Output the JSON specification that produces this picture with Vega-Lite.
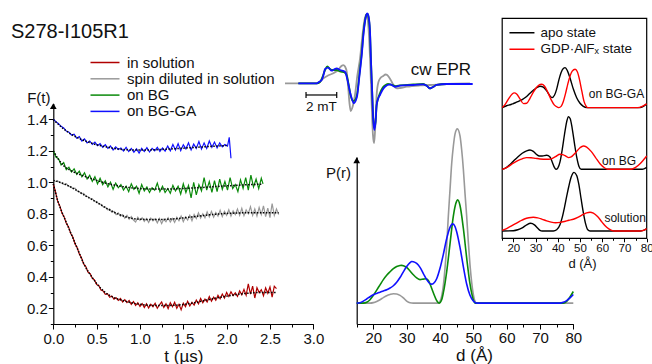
{
"$schema": "https://vega.github.io/schema/vega-lite/v6.json",
"width": 652, "height": 364, "autosize": {"type": "none"}, "padding": 0,
"background": "white",
"title": {"text": "S278-I105R1", "anchor": "start", "frame": "group", "offset": -58, "dx": 11, "baseline": "alphabetic", "fontSize": 20, "font": "Liberation Sans", "fontWeight": "normal", "color": "#111"},
"config": {
  "view": {"stroke": null},
  "font": "Liberation Sans",
  "axis": {"grid": false, "domainColor": "#000", "tickColor": "#000", "labelColor": "#111", "titleColor": "#111", "titleFontWeight": "normal", "labelFont": "Liberation Sans", "titleFont": "Liberation Sans", "labelFontSize": 15, "titleFontSize": 17, "domainWidth": 1.2, "tickWidth": 1},
  "legend": {"labelFont": "Liberation Sans", "labelColor": "#111"}
},
"datasets": {
  "red": [{"t":0,"f":0.99},{"t":0.025,"f":0.94},{"t":0.05,"f":0.88},{"t":0.075,"f":0.85},{"t":0.1,"f":0.805},{"t":0.125,"f":0.78},{"t":0.15,"f":0.74},{"t":0.175,"f":0.718},{"t":0.2,"f":0.676},{"t":0.225,"f":0.652},{"t":0.25,"f":0.61},{"t":0.275,"f":0.585},{"t":0.3,"f":0.545},{"t":0.325,"f":0.52},{"t":0.35,"f":0.482},{"t":0.375,"f":0.465},{"t":0.4,"f":0.43},{"t":0.425,"f":0.42},{"t":0.45,"f":0.39},{"t":0.475,"f":0.38},{"t":0.5,"f":0.35},{"t":0.525,"f":0.345},{"t":0.55,"f":0.315},{"t":0.575,"f":0.31},{"t":0.6,"f":0.288},{"t":0.625,"f":0.292},{"t":0.65,"f":0.27},{"t":0.675,"f":0.278},{"t":0.7,"f":0.258},{"t":0.725,"f":0.266},{"t":0.75,"f":0.25},{"t":0.775,"f":0.262},{"t":0.8,"f":0.24},{"t":0.825,"f":0.255},{"t":0.85,"f":0.236},{"t":0.875,"f":0.25},{"t":0.9,"f":0.225},{"t":0.925,"f":0.242},{"t":0.95,"f":0.218},{"t":0.975,"f":0.235},{"t":1,"f":0.212},{"t":1.025,"f":0.23},{"t":1.05,"f":0.205},{"t":1.075,"f":0.228},{"t":1.1,"f":0.202},{"t":1.125,"f":0.225},{"t":1.15,"f":0.21},{"t":1.175,"f":0.232},{"t":1.2,"f":0.2},{"t":1.225,"f":0.222},{"t":1.25,"f":0.24},{"t":1.275,"f":0.205},{"t":1.3,"f":0.228},{"t":1.325,"f":0.198},{"t":1.35,"f":0.235},{"t":1.375,"f":0.21},{"t":1.4,"f":0.238},{"t":1.425,"f":0.2},{"t":1.45,"f":0.225},{"t":1.475,"f":0.19},{"t":1.5,"f":0.232},{"t":1.525,"f":0.21},{"t":1.55,"f":0.245},{"t":1.575,"f":0.215},{"t":1.6,"f":0.238},{"t":1.625,"f":0.22},{"t":1.65,"f":0.252},{"t":1.675,"f":0.228},{"t":1.7,"f":0.262},{"t":1.725,"f":0.235},{"t":1.75,"f":0.258},{"t":1.775,"f":0.24},{"t":1.8,"f":0.275},{"t":1.825,"f":0.245},{"t":1.85,"f":0.27},{"t":1.875,"f":0.25},{"t":1.9,"f":0.282},{"t":1.925,"f":0.26},{"t":1.95,"f":0.29},{"t":1.975,"f":0.265},{"t":2,"f":0.3},{"t":2.025,"f":0.275},{"t":2.05,"f":0.305},{"t":2.075,"f":0.28},{"t":2.1,"f":0.298},{"t":2.125,"f":0.275},{"t":2.15,"f":0.31},{"t":2.175,"f":0.285},{"t":2.2,"f":0.32},{"t":2.225,"f":0.282},{"t":2.25,"f":0.355},{"t":2.275,"f":0.29},{"t":2.3,"f":0.34},{"t":2.325,"f":0.265},{"t":2.35,"f":0.33},{"t":2.375,"f":0.3},{"t":2.4,"f":0.318},{"t":2.425,"f":0.28},{"t":2.45,"f":0.33},{"t":2.475,"f":0.295},{"t":2.5,"f":0.335},{"t":2.525,"f":0.27},{"t":2.55,"f":0.34},{"t":2.575,"f":0.325}],
  "gray": [{"t":0,"f":1.012},{"t":0.025,"f":1.005},{"t":0.05,"f":1.008},{"t":0.075,"f":0.998},{"t":0.1,"f":0.995},{"t":0.125,"f":0.985},{"t":0.15,"f":0.99},{"t":0.175,"f":0.975},{"t":0.2,"f":0.972},{"t":0.225,"f":0.96},{"t":0.25,"f":0.962},{"t":0.275,"f":0.945},{"t":0.3,"f":0.94},{"t":0.325,"f":0.928},{"t":0.35,"f":0.93},{"t":0.375,"f":0.912},{"t":0.4,"f":0.908},{"t":0.425,"f":0.898},{"t":0.45,"f":0.895},{"t":0.475,"f":0.88},{"t":0.5,"f":0.878},{"t":0.525,"f":0.862},{"t":0.55,"f":0.86},{"t":0.575,"f":0.845},{"t":0.6,"f":0.842},{"t":0.625,"f":0.825},{"t":0.65,"f":0.83},{"t":0.675,"f":0.81},{"t":0.7,"f":0.815},{"t":0.725,"f":0.795},{"t":0.75,"f":0.805},{"t":0.775,"f":0.785},{"t":0.8,"f":0.795},{"t":0.825,"f":0.772},{"t":0.85,"f":0.79},{"t":0.875,"f":0.765},{"t":0.9,"f":0.782},{"t":0.925,"f":0.76},{"t":0.95,"f":0.748},{"t":0.975,"f":0.778},{"t":1,"f":0.758},{"t":1.025,"f":0.775},{"t":1.05,"f":0.752},{"t":1.075,"f":0.77},{"t":1.1,"f":0.745},{"t":1.125,"f":0.772},{"t":1.15,"f":0.755},{"t":1.175,"f":0.768},{"t":1.2,"f":0.742},{"t":1.225,"f":0.77},{"t":1.25,"f":0.738},{"t":1.275,"f":0.765},{"t":1.3,"f":0.75},{"t":1.325,"f":0.775},{"t":1.35,"f":0.748},{"t":1.375,"f":0.77},{"t":1.4,"f":0.745},{"t":1.425,"f":0.778},{"t":1.45,"f":0.755},{"t":1.475,"f":0.785},{"t":1.5,"f":0.75},{"t":1.525,"f":0.78},{"t":1.55,"f":0.76},{"t":1.575,"f":0.79},{"t":1.6,"f":0.755},{"t":1.625,"f":0.795},{"t":1.65,"f":0.77},{"t":1.675,"f":0.805},{"t":1.7,"f":0.772},{"t":1.725,"f":0.8},{"t":1.75,"f":0.775},{"t":1.775,"f":0.812},{"t":1.8,"f":0.78},{"t":1.825,"f":0.815},{"t":1.85,"f":0.778},{"t":1.875,"f":0.808},{"t":1.9,"f":0.785},{"t":1.925,"f":0.822},{"t":1.95,"f":0.782},{"t":1.975,"f":0.815},{"t":2,"f":0.79},{"t":2.025,"f":0.825},{"t":2.05,"f":0.785},{"t":2.075,"f":0.818},{"t":2.1,"f":0.795},{"t":2.125,"f":0.83},{"t":2.15,"f":0.79},{"t":2.175,"f":0.835},{"t":2.2,"f":0.788},{"t":2.225,"f":0.825},{"t":2.25,"f":0.8},{"t":2.275,"f":0.845},{"t":2.3,"f":0.79},{"t":2.325,"f":0.83},{"t":2.35,"f":0.785},{"t":2.375,"f":0.84},{"t":2.4,"f":0.795},{"t":2.425,"f":0.85},{"t":2.45,"f":0.782},{"t":2.475,"f":0.835},{"t":2.5,"f":0.775},{"t":2.525,"f":0.865},{"t":2.55,"f":0.79},{"t":2.575,"f":0.83},{"t":2.6,"f":0.795}],
  "green": [{"t":0,"f":1.2},{"t":0.03,"f":1.16},{"t":0.06,"f":1.15},{"t":0.09,"f":1.11},{"t":0.12,"f":1.125},{"t":0.15,"f":1.08},{"t":0.18,"f":1.095},{"t":0.21,"f":1.065},{"t":0.24,"f":1.085},{"t":0.27,"f":1.05},{"t":0.3,"f":1.07},{"t":0.33,"f":1.035},{"t":0.36,"f":1.06},{"t":0.39,"f":1.02},{"t":0.42,"f":1.045},{"t":0.45,"f":1.005},{"t":0.48,"f":1.035},{"t":0.51,"f":0.99},{"t":0.54,"f":1.025},{"t":0.57,"f":0.985},{"t":0.6,"f":1.01},{"t":0.63,"f":0.97},{"t":0.66,"f":1},{"t":0.69,"f":0.955},{"t":0.72,"f":0.995},{"t":0.75,"f":0.965},{"t":0.78,"f":0.985},{"t":0.81,"f":0.95},{"t":0.84,"f":0.975},{"t":0.87,"f":0.94},{"t":0.9,"f":0.99},{"t":0.93,"f":0.955},{"t":0.96,"f":0.975},{"t":0.99,"f":0.93},{"t":1.02,"f":0.985},{"t":1.05,"f":0.945},{"t":1.08,"f":0.97},{"t":1.11,"f":0.935},{"t":1.14,"f":0.965},{"t":1.17,"f":0.95},{"t":1.2,"f":0.995},{"t":1.23,"f":0.94},{"t":1.26,"f":0.975},{"t":1.29,"f":0.935},{"t":1.32,"f":0.96},{"t":1.35,"f":0.93},{"t":1.38,"f":0.98},{"t":1.41,"f":0.945},{"t":1.44,"f":0.975},{"t":1.47,"f":0.925},{"t":1.5,"f":0.99},{"t":1.53,"f":0.935},{"t":1.56,"f":0.98},{"t":1.59,"f":0.9},{"t":1.62,"f":1},{"t":1.65,"f":0.92},{"t":1.68,"f":0.985},{"t":1.71,"f":0.945},{"t":1.74,"f":1.03},{"t":1.77,"f":0.95},{"t":1.8,"f":1.005},{"t":1.83,"f":0.935},{"t":1.86,"f":1.01},{"t":1.89,"f":0.94},{"t":1.92,"f":1.02},{"t":1.95,"f":0.955},{"t":1.98,"f":1.005},{"t":2.01,"f":0.95},{"t":2.04,"f":1.03},{"t":2.07,"f":0.96},{"t":2.1,"f":0.985},{"t":2.13,"f":0.94},{"t":2.16,"f":1.015},{"t":2.19,"f":0.96},{"t":2.22,"f":1.03},{"t":2.25,"f":0.95},{"t":2.28,"f":1.045},{"t":2.31,"f":0.97},{"t":2.34,"f":1.02},{"t":2.37,"f":0.96},{"t":2.4,"f":1.025},{"t":2.42,"f":0.99}],
  "blue": [{"t":0,"f":1.4},{"t":0.03,"f":1.385},{"t":0.06,"f":1.372},{"t":0.09,"f":1.355},{"t":0.12,"f":1.345},{"t":0.15,"f":1.325},{"t":0.18,"f":1.318},{"t":0.21,"f":1.3},{"t":0.24,"f":1.305},{"t":0.27,"f":1.28},{"t":0.3,"f":1.29},{"t":0.33,"f":1.262},{"t":0.36,"f":1.275},{"t":0.39,"f":1.25},{"t":0.42,"f":1.262},{"t":0.45,"f":1.24},{"t":0.48,"f":1.255},{"t":0.51,"f":1.232},{"t":0.54,"f":1.245},{"t":0.57,"f":1.222},{"t":0.6,"f":1.238},{"t":0.63,"f":1.215},{"t":0.66,"f":1.23},{"t":0.69,"f":1.205},{"t":0.72,"f":1.225},{"t":0.75,"f":1.208},{"t":0.78,"f":1.218},{"t":0.81,"f":1.198},{"t":0.84,"f":1.222},{"t":0.87,"f":1.195},{"t":0.9,"f":1.215},{"t":0.93,"f":1.19},{"t":0.96,"f":1.212},{"t":0.99,"f":1.185},{"t":1.02,"f":1.215},{"t":1.05,"f":1.195},{"t":1.08,"f":1.22},{"t":1.11,"f":1.192},{"t":1.14,"f":1.215},{"t":1.17,"f":1.2},{"t":1.2,"f":1.222},{"t":1.23,"f":1.195},{"t":1.26,"f":1.218},{"t":1.29,"f":1.198},{"t":1.32,"f":1.23},{"t":1.35,"f":1.2},{"t":1.38,"f":1.24},{"t":1.41,"f":1.205},{"t":1.44,"f":1.245},{"t":1.47,"f":1.2},{"t":1.5,"f":1.238},{"t":1.53,"f":1.212},{"t":1.56,"f":1.25},{"t":1.59,"f":1.205},{"t":1.62,"f":1.242},{"t":1.65,"f":1.215},{"t":1.68,"f":1.258},{"t":1.71,"f":1.21},{"t":1.74,"f":1.25},{"t":1.77,"f":1.215},{"t":1.8,"f":1.262},{"t":1.83,"f":1.222},{"t":1.86,"f":1.255},{"t":1.89,"f":1.218},{"t":1.92,"f":1.25},{"t":1.95,"f":1.225},{"t":1.98,"f":1.24},{"t":2.01,"f":1.23},{"t":2.03,"f":1.285},{"t":2.05,"f":1.152}],
  "fits": [{"s":"r","t":0,"f":0.99},{"s":"r","t":0.05,"f":0.885},{"s":"r","t":0.1,"f":0.81},{"s":"r","t":0.15,"f":0.745},{"s":"r","t":0.2,"f":0.68},{"s":"r","t":0.25,"f":0.615},{"s":"r","t":0.3,"f":0.55},{"s":"r","t":0.35,"f":0.485},{"s":"r","t":0.4,"f":0.435},{"s":"r","t":0.45,"f":0.395},{"s":"r","t":0.5,"f":0.357},{"s":"r","t":0.6,"f":0.3},{"s":"r","t":0.7,"f":0.267},{"s":"r","t":0.8,"f":0.25},{"s":"r","t":0.9,"f":0.235},{"s":"r","t":1,"f":0.225},{"s":"r","t":1.2,"f":0.217},{"s":"r","t":1.4,"f":0.219},{"s":"r","t":1.6,"f":0.232},{"s":"r","t":1.8,"f":0.256},{"s":"r","t":2,"f":0.277},{"s":"r","t":2.2,"f":0.293},{"s":"r","t":2.4,"f":0.3},{"s":"r","t":2.575,"f":0.3},
    {"s":"g","t":0,"f":1.012},{"s":"g","t":0.1,"f":0.995},{"s":"g","t":0.2,"f":0.97},{"s":"g","t":0.3,"f":0.938},{"s":"g","t":0.4,"f":0.905},{"s":"g","t":0.5,"f":0.873},{"s":"g","t":0.6,"f":0.84},{"s":"g","t":0.7,"f":0.81},{"s":"g","t":0.8,"f":0.787},{"s":"g","t":0.9,"f":0.772},{"s":"g","t":1,"f":0.765},{"s":"g","t":1.2,"f":0.763},{"s":"g","t":1.4,"f":0.768},{"s":"g","t":1.6,"f":0.78},{"s":"g","t":1.8,"f":0.793},{"s":"g","t":2,"f":0.802},{"s":"g","t":2.2,"f":0.806},{"s":"g","t":2.4,"f":0.807},{"s":"g","t":2.6,"f":0.806},
    {"s":"b","t":0,"f":1.2},{"s":"b","t":0.06,"f":1.145},{"s":"b","t":0.12,"f":1.105},{"s":"b","t":0.2,"f":1.075},{"s":"b","t":0.3,"f":1.05},{"s":"b","t":0.4,"f":1.03},{"s":"b","t":0.5,"f":1.012},{"s":"b","t":0.6,"f":0.995},{"s":"b","t":0.7,"f":0.982},{"s":"b","t":0.8,"f":0.972},{"s":"b","t":0.9,"f":0.965},{"s":"b","t":1,"f":0.96},{"s":"b","t":1.2,"f":0.957},{"s":"b","t":1.4,"f":0.958},{"s":"b","t":1.6,"f":0.963},{"s":"b","t":1.8,"f":0.97},{"s":"b","t":2,"f":0.977},{"s":"b","t":2.2,"f":0.983},{"s":"b","t":2.4,"f":0.988},
    {"s":"a","t":0,"f":1.398},{"s":"a","t":0.05,"f":1.372},{"s":"a","t":0.1,"f":1.347},{"s":"a","t":0.15,"f":1.326},{"s":"a","t":0.2,"f":1.307},{"s":"a","t":0.3,"f":1.277},{"s":"a","t":0.4,"f":1.256},{"s":"a","t":0.5,"f":1.238},{"s":"a","t":0.6,"f":1.226},{"s":"a","t":0.7,"f":1.215},{"s":"a","t":0.8,"f":1.208},{"s":"a","t":0.9,"f":1.205},{"s":"a","t":1,"f":1.204},{"s":"a","t":1.2,"f":1.207},{"s":"a","t":1.4,"f":1.213},{"s":"a","t":1.6,"f":1.22},{"s":"a","t":1.8,"f":1.227},{"s":"a","t":2,"f":1.233}],
  "pr": [{"s":"1","d":15,"p":0},{"s":"1","d":19,"p":0},{"s":"1","d":20,"p":0.003},{"s":"1","d":21,"p":0.01},{"s":"1","d":22,"p":0.02},{"s":"1","d":23,"p":0.032},{"s":"1","d":24,"p":0.043},{"s":"1","d":25,"p":0.05},{"s":"1","d":26,"p":0.054},{"s":"1","d":27,"p":0.053},{"s":"1","d":28,"p":0.045},{"s":"1","d":29,"p":0.03},{"s":"1","d":30,"p":0.012},{"s":"1","d":31,"p":0.002},{"s":"1","d":32,"p":0},{"s":"1","d":39.5,"p":0},{"s":"1","d":40,"p":0.01},{"s":"1","d":40.5,"p":0.04},{"s":"1","d":41,"p":0.1},{"s":"1","d":41.5,"p":0.2},{"s":"1","d":42,"p":0.33},{"s":"1","d":42.5,"p":0.5},{"s":"1","d":43,"p":0.65},{"s":"1","d":43.5,"p":0.8},{"s":"1","d":44,"p":0.9},{"s":"1","d":44.5,"p":0.97},{"s":"1","d":45.2,"p":1},{"s":"1","d":46,"p":0.96},{"s":"1","d":46.5,"p":0.88},{"s":"1","d":47,"p":0.77},{"s":"1","d":47.5,"p":0.63},{"s":"1","d":48,"p":0.5},{"s":"1","d":48.5,"p":0.35},{"s":"1","d":49,"p":0.22},{"s":"1","d":49.5,"p":0.12},{"s":"1","d":50,"p":0.05},{"s":"1","d":50.5,"p":0.01},{"s":"1","d":51,"p":0},{"s":"1","d":80,"p":0},
    {"s":"2","d":15,"p":0},{"s":"2","d":17,"p":0},{"s":"2","d":18,"p":0.005},{"s":"2","d":19,"p":0.02},{"s":"2","d":20,"p":0.045},{"s":"2","d":21,"p":0.075},{"s":"2","d":22,"p":0.105},{"s":"2","d":23,"p":0.135},{"s":"2","d":24,"p":0.16},{"s":"2","d":25,"p":0.18},{"s":"2","d":26,"p":0.198},{"s":"2","d":27,"p":0.21},{"s":"2","d":28,"p":0.216},{"s":"2","d":28.5,"p":0.217},{"s":"2","d":29,"p":0.215},{"s":"2","d":30,"p":0.205},{"s":"2","d":31,"p":0.185},{"s":"2","d":32,"p":0.163},{"s":"2","d":33,"p":0.145},{"s":"2","d":34,"p":0.135},{"s":"2","d":35,"p":0.138},{"s":"2","d":35.8,"p":0.14},{"s":"2","d":36.5,"p":0.13},{"s":"2","d":37,"p":0.11},{"s":"2","d":38,"p":0.06},{"s":"2","d":39,"p":0.015},{"s":"2","d":39.7,"p":0},{"s":"2","d":40.5,"p":0.02},{"s":"2","d":41,"p":0.06},{"s":"2","d":42,"p":0.18},{"s":"2","d":43,"p":0.34},{"s":"2","d":44,"p":0.5},{"s":"2","d":45,"p":0.585},{"s":"2","d":45.3,"p":0.593},{"s":"2","d":46,"p":0.56},{"s":"2","d":47,"p":0.43},{"s":"2","d":48,"p":0.26},{"s":"2","d":49,"p":0.11},{"s":"2","d":50,"p":0.02},{"s":"2","d":50.5,"p":0},{"s":"2","d":77,"p":0},{"s":"2","d":78,"p":0.01},{"s":"2","d":79,"p":0.035},{"s":"2","d":80,"p":0.067},
    {"s":"3","d":15,"p":0},{"s":"3","d":16,"p":0.003},{"s":"3","d":17,"p":0.012},{"s":"3","d":18,"p":0.024},{"s":"3","d":19,"p":0.037},{"s":"3","d":20,"p":0.048},{"s":"3","d":21,"p":0.056},{"s":"3","d":22,"p":0.063},{"s":"3","d":23,"p":0.07},{"s":"3","d":24,"p":0.077},{"s":"3","d":25,"p":0.087},{"s":"3","d":26,"p":0.1},{"s":"3","d":27,"p":0.12},{"s":"3","d":28,"p":0.147},{"s":"3","d":29,"p":0.18},{"s":"3","d":30,"p":0.21},{"s":"3","d":31,"p":0.232},{"s":"3","d":31.5,"p":0.239},{"s":"3","d":32,"p":0.238},{"s":"3","d":33,"p":0.228},{"s":"3","d":34,"p":0.205},{"s":"3","d":35,"p":0.17},{"s":"3","d":36,"p":0.135},{"s":"3","d":37,"p":0.112},{"s":"3","d":37.5,"p":0.109},{"s":"3","d":38,"p":0.112},{"s":"3","d":39,"p":0.14},{"s":"3","d":40,"p":0.2},{"s":"3","d":41,"p":0.28},{"s":"3","d":42,"p":0.37},{"s":"3","d":43,"p":0.435},{"s":"3","d":43.8,"p":0.455},{"s":"3","d":44.5,"p":0.44},{"s":"3","d":45,"p":0.41},{"s":"3","d":46,"p":0.32},{"s":"3","d":47,"p":0.21},{"s":"3","d":48,"p":0.11},{"s":"3","d":49,"p":0.045},{"s":"3","d":50,"p":0.012},{"s":"3","d":51,"p":0},{"s":"3","d":76,"p":0},{"s":"3","d":77,"p":0.005},{"s":"3","d":78,"p":0.015},{"s":"3","d":79,"p":0.03},{"s":"3","d":80,"p":0.05}],
  "epr": [{"s":"1","b":0,"v":0},{"s":"1","b":2.07,"v":0},{"s":"1","b":2.28,"v":0.019},{"s":"1","b":2.5,"v":0.071},{"s":"1","b":2.8,"v":0.111},{"s":"1","b":3.15,"v":0.143},{"s":"1","b":3.45,"v":0.19},{"s":"1","b":3.68,"v":0.247},{"s":"1","b":3.8,"v":0.261},{"s":"1","b":3.91,"v":0.24},{"s":"1","b":4.02,"v":0.166},{"s":"1","b":4.12,"v":-0.067},{"s":"1","b":4.2,"v":-0.281},{"s":"1","b":4.28,"v":-0.396},{"s":"1","b":4.38,"v":-0.353},{"s":"1","b":4.56,"v":-0.167},{"s":"1","b":4.72,"v":0.119},{"s":"1","b":4.89,"v":0.357},{"s":"1","b":5.05,"v":0.69},{"s":"1","b":5.18,"v":0.904},{"s":"1","b":5.28,"v":0.976},{"s":"1","b":5.36,"v":0.947},{"s":"1","b":5.47,"v":0.69},{"s":"1","b":5.57,"v":0.19},{"s":"1","b":5.65,"v":-0.31},{"s":"1","b":5.73,"v":-0.739},{"s":"1","b":5.8,"v":-0.853},{"s":"1","b":5.86,"v":-0.71},{"s":"1","b":5.97,"v":-0.167},{"s":"1","b":6.09,"v":0.019},{"s":"1","b":6.22,"v":0.076},{"s":"1","b":6.4,"v":0.104},{"s":"1","b":6.55,"v":0.126},{"s":"1","b":6.66,"v":0.119},{"s":"1","b":6.81,"v":0.076},{"s":"1","b":6.95,"v":0.023},{"s":"1","b":7.1,"v":-0.039},{"s":"1","b":7.28,"v":-0.071},{"s":"1","b":7.49,"v":-0.067},{"s":"1","b":7.93,"v":-0.049},{"s":"1","b":8.79,"v":-0.031},{"s":"1","b":9.45,"v":-0.024},{"s":"1","b":10.53,"v":-0.01},{"s":"1","b":12.05,"v":-0.003},
    {"s":"2","b":0.87,"v":0},{"s":"2","b":2.07,"v":0},{"s":"2","b":2.28,"v":0.019},{"s":"2","b":2.44,"v":0.09},{"s":"2","b":2.61,"v":0.19},{"s":"2","b":2.76,"v":0.24},{"s":"2","b":2.93,"v":0.204},{"s":"2","b":3.13,"v":0.19},{"s":"2","b":3.37,"v":0.19},{"s":"2","b":3.58,"v":0.169},{"s":"2","b":3.84,"v":0.161},{"s":"2","b":4.01,"v":0.119},{"s":"2","b":4.14,"v":-0.01},{"s":"2","b":4.27,"v":-0.167},{"s":"2","b":4.43,"v":-0.253},{"s":"2","b":4.56,"v":-0.239},{"s":"2","b":4.71,"v":-0.139},{"s":"2","b":4.85,"v":0.133},{"s":"2","b":5,"v":0.433},{"s":"2","b":5.11,"v":0.719},{"s":"2","b":5.21,"v":0.89},{"s":"2","b":5.31,"v":0.983},{"s":"2","b":5.37,"v":0.99},{"s":"2","b":5.45,"v":0.933},{"s":"2","b":5.54,"v":0.719},{"s":"2","b":5.6,"v":0.333},{"s":"2","b":5.67,"v":-0.067},{"s":"2","b":5.75,"v":-0.496},{"s":"2","b":5.82,"v":-0.639},{"s":"2","b":5.9,"v":-0.553},{"s":"2","b":5.97,"v":-0.324},{"s":"2","b":6.06,"v":-0.224},{"s":"2","b":6.19,"v":-0.139},{"s":"2","b":6.35,"v":-0.067},{"s":"2","b":6.51,"v":-0.031},{"s":"2","b":6.71,"v":-0.01},{"s":"2","b":6.97,"v":-0.024},{"s":"2","b":7.23,"v":-0.039},{"s":"2","b":7.49,"v":-0.031},{"s":"2","b":8.36,"v":-0.017},{"s":"2","b":9.01,"v":-0.01},{"s":"2","b":9.25,"v":-0.039},{"s":"2","b":9.45,"v":-0.074},{"s":"2","b":9.64,"v":-0.053},{"s":"2","b":9.88,"v":-0.024},{"s":"2","b":10.53,"v":-0.01},{"s":"2","b":11.4,"v":-0.01},
    {"s":"3","b":0.87,"v":0},{"s":"3","b":2.07,"v":0},{"s":"3","b":2.21,"v":0.019},{"s":"3","b":2.39,"v":0.047},{"s":"3","b":2.51,"v":0.119},{"s":"3","b":2.61,"v":0.204},{"s":"3","b":2.82,"v":0.223},{"s":"3","b":3.04,"v":0.18},{"s":"3","b":3.19,"v":0.197},{"s":"3","b":3.37,"v":0.214},{"s":"3","b":3.58,"v":0.19},{"s":"3","b":3.91,"v":0.166},{"s":"3","b":4.02,"v":0.094},{"s":"3","b":4.14,"v":-0.024},{"s":"3","b":4.23,"v":-0.12},{"s":"3","b":4.36,"v":-0.224},{"s":"3","b":4.49,"v":-0.286},{"s":"3","b":4.6,"v":-0.253},{"s":"3","b":4.71,"v":-0.167},{"s":"3","b":4.85,"v":0.104},{"s":"3","b":5,"v":0.404},{"s":"3","b":5.11,"v":0.69},{"s":"3","b":5.21,"v":0.88},{"s":"3","b":5.3,"v":0.976},{"s":"3","b":5.36,"v":1},{"s":"3","b":5.44,"v":0.961},{"s":"3","b":5.54,"v":0.737},{"s":"3","b":5.6,"v":0.333},{"s":"3","b":5.67,"v":-0.067},{"s":"3","b":5.75,"v":-0.524},{"s":"3","b":5.82,"v":-0.667},{"s":"3","b":5.9,"v":-0.553},{"s":"3","b":5.97,"v":-0.31},{"s":"3","b":6.06,"v":-0.224},{"s":"3","b":6.19,"v":-0.167},{"s":"3","b":6.35,"v":-0.096},{"s":"3","b":6.51,"v":-0.049},{"s":"3","b":6.84,"v":-0.014},{"s":"3","b":7.17,"v":-0.049},{"s":"3","b":7.49,"v":-0.034},{"s":"3","b":8.36,"v":-0.024},{"s":"3","b":9.01,"v":-0.014},{"s":"3","b":9.25,"v":-0.039},{"s":"3","b":9.45,"v":-0.071},{"s":"3","b":9.64,"v":-0.053},{"s":"3","b":9.88,"v":-0.024},{"s":"3","b":10.53,"v":-0.01},{"s":"3","b":12.23,"v":-0.01}],
  "apo": [{"g":"s","d":15,"y":0},{"g":"s","d":20,"y":0.005},{"g":"s","d":22,"y":0.02},{"g":"s","d":24,"y":0.05},{"g":"s","d":26,"y":0.1},{"g":"s","d":27.8,"y":0.125},{"g":"s","d":29.5,"y":0.1},{"g":"s","d":31,"y":0.045},{"g":"s","d":32,"y":0.01},{"g":"s","d":33,"y":0},{"g":"s","d":38,"y":0},{"g":"s","d":39.5,"y":0.02},{"g":"s","d":41,"y":0.1},{"g":"s","d":42,"y":0.22},{"g":"s","d":43,"y":0.38},{"g":"s","d":44,"y":0.56},{"g":"s","d":45,"y":0.73},{"g":"s","d":46,"y":0.87},{"g":"s","d":47.3,"y":0.951},{"g":"s","d":48.5,"y":0.9},{"g":"s","d":49.5,"y":0.75},{"g":"s","d":50.5,"y":0.52},{"g":"s","d":51.5,"y":0.3},{"g":"s","d":52.5,"y":0.12},{"g":"s","d":53.5,"y":0.02},{"g":"s","d":54.5,"y":0},{"g":"s","d":77,"y":0},{"g":"s","d":78.5,"y":0.01},{"g":"s","d":80,"y":0.04},
    {"g":"b","d":15,"y":1},{"g":"b","d":16,"y":1.01},{"g":"b","d":18,"y":1.06},{"g":"b","d":20,"y":1.13},{"g":"b","d":22,"y":1.2},{"g":"b","d":24,"y":1.26},{"g":"b","d":26,"y":1.3},{"g":"b","d":27.5,"y":1.313},{"g":"b","d":29,"y":1.29},{"g":"b","d":30.5,"y":1.24},{"g":"b","d":31.7,"y":1.216},{"g":"b","d":33,"y":1.215},{"g":"b","d":35,"y":1.227},{"g":"b","d":36.5,"y":1.2},{"g":"b","d":37.5,"y":1.12},{"g":"b","d":38.5,"y":1.03},{"g":"b","d":39.2,"y":1},{"g":"b","d":40,"y":1.02},{"g":"b","d":41,"y":1.12},{"g":"b","d":42,"y":1.32},{"g":"b","d":43,"y":1.56},{"g":"b","d":44,"y":1.77},{"g":"b","d":44.8,"y":1.854},{"g":"b","d":45.6,"y":1.82},{"g":"b","d":46.5,"y":1.66},{"g":"b","d":47.5,"y":1.42},{"g":"b","d":48.5,"y":1.2},{"g":"b","d":49.5,"y":1.05},{"g":"b","d":50.5,"y":1},{"g":"b","d":78,"y":1},{"g":"b","d":79,"y":1.01},{"g":"b","d":80,"y":1.03},
    {"g":"a","d":15,"y":2},{"g":"a","d":17,"y":2.03},{"g":"a","d":19,"y":2.05},{"g":"a","d":20,"y":2.065},{"g":"a","d":22,"y":2.095},{"g":"a","d":24,"y":2.13},{"g":"a","d":26,"y":2.18},{"g":"a","d":28,"y":2.25},{"g":"a","d":30,"y":2.31},{"g":"a","d":32,"y":2.345},{"g":"a","d":33.5,"y":2.33},{"g":"a","d":35,"y":2.27},{"g":"a","d":36.5,"y":2.19},{"g":"a","d":37.4,"y":2.162},{"g":"a","d":38.5,"y":2.2},{"g":"a","d":39.5,"y":2.3},{"g":"a","d":40.5,"y":2.45},{"g":"a","d":41.5,"y":2.57},{"g":"a","d":42.5,"y":2.635},{"g":"a","d":43.3,"y":2.648},{"g":"a","d":44.3,"y":2.6},{"g":"a","d":45.5,"y":2.48},{"g":"a","d":47,"y":2.3},{"g":"a","d":48.5,"y":2.16},{"g":"a","d":50,"y":2.07},{"g":"a","d":51.5,"y":2.02},{"g":"a","d":53,"y":2},{"g":"a","d":77,"y":2},{"g":"a","d":78.5,"y":2.02},{"g":"a","d":80,"y":2.06}],
  "gdp": [{"g":"s","d":15,"y":0.01},{"g":"s","d":17,"y":0.04},{"g":"s","d":19,"y":0.08},{"g":"s","d":21,"y":0.12},{"g":"s","d":23,"y":0.16},{"g":"s","d":25,"y":0.195},{"g":"s","d":27,"y":0.215},{"g":"s","d":29,"y":0.222},{"g":"s","d":31,"y":0.212},{"g":"s","d":33,"y":0.19},{"g":"s","d":35,"y":0.165},{"g":"s","d":37,"y":0.145},{"g":"s","d":39,"y":0.135},{"g":"s","d":41,"y":0.14},{"g":"s","d":43,"y":0.155},{"g":"s","d":45,"y":0.175},{"g":"s","d":47,"y":0.19},{"g":"s","d":49,"y":0.22},{"g":"s","d":51,"y":0.26},{"g":"s","d":53,"y":0.295},{"g":"s","d":54.5,"y":0.305},{"g":"s","d":56,"y":0.29},{"g":"s","d":58,"y":0.23},{"g":"s","d":60,"y":0.14},{"g":"s","d":62,"y":0.06},{"g":"s","d":64,"y":0.015},{"g":"s","d":65.5,"y":0},{"g":"s","d":77,"y":0},{"g":"s","d":78.5,"y":0.01},{"g":"s","d":80,"y":0.04},
    {"g":"b","d":15,"y":1},{"g":"b","d":16,"y":1.01},{"g":"b","d":18,"y":1.05},{"g":"b","d":20,"y":1.1},{"g":"b","d":22,"y":1.14},{"g":"b","d":24,"y":1.17},{"g":"b","d":26,"y":1.19},{"g":"b","d":28,"y":1.188},{"g":"b","d":30,"y":1.178},{"g":"b","d":32,"y":1.168},{"g":"b","d":35,"y":1.162},{"g":"b","d":37,"y":1.17},{"g":"b","d":39,"y":1.205},{"g":"b","d":41,"y":1.243},{"g":"b","d":42.5,"y":1.235},{"g":"b","d":44,"y":1.205},{"g":"b","d":44.8,"y":1.19},{"g":"b","d":46,"y":1.2},{"g":"b","d":48,"y":1.27},{"g":"b","d":50,"y":1.35},{"g":"b","d":51.5,"y":1.378},{"g":"b","d":53,"y":1.36},{"g":"b","d":55,"y":1.29},{"g":"b","d":57,"y":1.19},{"g":"b","d":59,"y":1.09},{"g":"b","d":61,"y":1.025},{"g":"b","d":62.5,"y":1},{"g":"b","d":73,"y":1},{"g":"b","d":75,"y":1.03},{"g":"b","d":77,"y":1.09},{"g":"b","d":78.5,"y":1.15},{"g":"b","d":80,"y":1.216},
    {"g":"a","d":15,"y":2},{"g":"a","d":16.5,"y":2.06},{"g":"a","d":18,"y":2.15},{"g":"a","d":19.5,"y":2.22},{"g":"a","d":20.4,"y":2.238},{"g":"a","d":21.5,"y":2.22},{"g":"a","d":23,"y":2.14},{"g":"a","d":24.6,"y":2.065},{"g":"a","d":26,"y":2.07},{"g":"a","d":27.5,"y":2.15},{"g":"a","d":29,"y":2.25},{"g":"a","d":30.5,"y":2.33},{"g":"a","d":32,"y":2.375},{"g":"a","d":32.8,"y":2.378},{"g":"a","d":34,"y":2.35},{"g":"a","d":35.5,"y":2.25},{"g":"a","d":37,"y":2.13},{"g":"a","d":38.5,"y":2.04},{"g":"a","d":40,"y":2.005},{"g":"a","d":40.5,"y":2},{"g":"a","d":41.5,"y":2.02},{"g":"a","d":42.5,"y":2.1},{"g":"a","d":43.5,"y":2.23},{"g":"a","d":44.5,"y":2.38},{"g":"a","d":45.5,"y":2.51},{"g":"a","d":46.5,"y":2.59},{"g":"a","d":47.8,"y":2.621},{"g":"a","d":48.8,"y":2.58},{"g":"a","d":49.8,"y":2.45},{"g":"a","d":50.8,"y":2.27},{"g":"a","d":51.8,"y":2.1},{"g":"a","d":52.8,"y":2.02},{"g":"a","d":53.5,"y":2},{"g":"a","d":76,"y":2},{"g":"a","d":78,"y":2.02},{"g":"a","d":80,"y":2.06}]
},
"resolve": {"scale": {"x": "independent", "y": "independent", "color": "independent"}, "axis": {"x": "independent", "y": "independent"}, "legend": {"color": "independent"}},
"layer": [
  {
    "encoding": {
      "x": {"field": "t", "type": "quantitative", "scale": {"domain": [0, 3], "range": [53.3, 313.3], "nice": false, "zero": false},
        "axis": {"orient": "bottom", "offset": -40, "values": [0,0.25,0.5,0.75,1,1.25,1.5,1.75,2,2.25,2.5,2.75,3], "labelExpr": "datum.value % 0.5 === 0 ? format(datum.value, '.1f') : ''", "tickSize": {"condition": {"test": "datum.value % 0.5 === 0", "value": 5}, "value": 3}, "labelPadding": 2, "title": "t (µs)", "titlePadding": 2, "labelFlush": false, "labelOverlap": false}},
      "y": {"field": "f", "type": "quantitative", "scale": {"domain": [0.1, 1.5], "range": [324, 103.5], "nice": false, "zero": false},
        "axis": {"orient": "left", "offset": -53.3, "values": [0.1,0.2,0.3,0.4,0.5,0.6,0.7,0.8,0.9,1,1.1,1.2,1.3,1.4], "labelExpr": "round(datum.value*10) % 2 === 0 ? format(datum.value, '.1f') : ''", "tickSize": {"condition": {"test": "round(datum.value*10) % 2 === 0", "value": 5}, "value": 3}, "labelPadding": 1, "labelOverlap": false, "title": "F(t)", "titleAngle": 0, "titleX": -15, "titleY": 97, "titleAlign": "center", "titleBaseline": "middle", "titleFontSize": 15}}
    },
    "layer": [
      {"data": {"name": "red"}, "mark": {"type": "line", "strokeWidth": 1.2},
       "encoding": {"color": {"datum": "in solution", "scale": {"domain": ["in solution", "spin diluted in solution", "on BG", "on BG-GA"], "range": ["#b00000", "#999999", "#0a8a0a", "#1010ff"]},
         "legend": {"orient": "none", "legendX": 97.5, "legendY": 55, "title": null, "symbolType": "M-2.9,0H2.9", "symbolSize": 100, "symbolStrokeWidth": 1.5, "labelFontSize": 15, "rowPadding": 0.3, "labelOffset": 14.5, "padding": 0}}}},
      {"data": {"name": "gray"}, "mark": {"type": "line", "strokeWidth": 1.2}, "encoding": {"color": {"datum": "spin diluted in solution"}}},
      {"data": {"name": "green"}, "mark": {"type": "line", "strokeWidth": 1.2}, "encoding": {"color": {"datum": "on BG"}}},
      {"data": {"name": "blue"}, "mark": {"type": "line", "strokeWidth": 1.2}, "encoding": {"color": {"datum": "on BG-GA"}}},
      {"data": {"name": "fits"}, "mark": {"type": "line", "strokeWidth": 1.5, "strokeDash": [1.5, 1.5], "color": "#000", "interpolate": "monotone"}, "encoding": {"detail": {"field": "s"}}},
      {"data": {"values": [{"t": 0, "f": 1.483}]}, "mark": {"type": "point", "shape": "triangle-up", "filled": true, "size": 45, "color": "#000", "opacity": 1}}
    ]
  },
  {
    "data": {"name": "epr"},
    "encoding": {
      "x": {"field": "b", "type": "quantitative", "scale": {"domain": [0, 12.23], "range": [285, 472.7], "nice": false, "zero": false}, "axis": null},
      "y": {"field": "v", "type": "quantitative", "scale": {"domain": [-1, 1], "range": [153.3, 13.3], "nice": false, "zero": false}, "axis": null}
    },
    "layer": [
      {"mark": {"type": "line", "strokeWidth": 1.8, "interpolate": "monotone"},
       "encoding": {"color": {"field": "s", "type": "nominal", "scale": {"domain": ["1", "2", "3"], "range": ["#999999", "#0a8a0a", "#1010ff"]}, "legend": null}, "order": {"field": "s"}}},
      {"data": {"values": [{"b": 1.37, "b2": 3.37, "v": -0.167}]}, "mark": {"type": "rule", "color": "#000", "strokeWidth": 1.2}, "encoding": {"x2": {"field": "b2"}}},
      {"data": {"values": [{"b": 1.37, "v": -0.21, "v2": -0.124}, {"b": 3.37, "v": -0.21, "v2": -0.124}]}, "mark": {"type": "rule", "color": "#000", "strokeWidth": 1.2}, "encoding": {"y2": {"field": "v2"}}},
      {"data": {"values": [{"b": 2.37, "v": -0.334, "label": "2 mT"}]}, "mark": {"type": "text", "fontSize": 13.5, "align": "center", "baseline": "middle", "color": "#111"}, "encoding": {"text": {"field": "label"}}},
      {"data": {"values": [{"b": 8.19, "v": 0.183, "label": "cw EPR"}]}, "mark": {"type": "text", "fontSize": 17, "align": "left", "baseline": "middle", "color": "#111"}, "encoding": {"text": {"field": "label"}}}
    ]
  },
  {
    "encoding": {
      "x": {"field": "d", "type": "quantitative", "scale": {"domain": [15, 80], "range": [356.7, 573.3], "nice": false, "zero": false},
        "axis": {"orient": "bottom", "offset": -40, "values": [15,20,25,30,35,40,45,50,55,60,65,70,75,80], "labelExpr": "datum.value % 10 === 0 ? datum.value : ''", "tickSize": {"condition": {"test": "datum.value % 10 === 0", "value": 5}, "value": 3}, "labelPadding": 1, "labelOverlap": false, "labelFlush": false, "title": "d (Å)", "titleX": 474, "titlePadding": 2}},
      "y": {"field": "p", "type": "quantitative", "scale": {"domain": [-0.1195, 0.8385], "range": [324, 157], "nice": false, "zero": false},
        "axis": {"orient": "left", "offset": -356.7, "ticks": false, "labels": false, "title": "P(r)", "titleAngle": 0, "titleX": -18.7, "titleY": 172, "titleAlign": "center", "titleBaseline": "middle", "titleFontSize": 15}}
    },
    "layer": [
      {"data": {"name": "pr"}, "mark": {"type": "line", "strokeWidth": 1.6, "interpolate": "monotone"},
       "encoding": {"color": {"field": "s", "type": "nominal", "scale": {"domain": ["1", "2", "3"], "range": ["#999999", "#0a8a0a", "#1010ff"]}, "legend": null}, "order": {"field": "s"}}},
      {"data": {"values": [{"d": 15, "p": 0.82}]}, "mark": {"type": "point", "shape": "triangle-up", "filled": true, "size": 45, "color": "#000", "opacity": 1}}
    ]
  },
  {
    "encoding": {
      "x": {"field": "d", "type": "quantitative", "scale": {"domain": [15, 80], "range": [502.2, 646.7], "nice": false, "zero": false},
        "axis": {"orient": "bottom", "offset": -125.7, "domain": false, "values": [15,20,25,30,35,40,45,50,55,60,65,70,75,80], "labelExpr": "datum.value % 10 === 0 ? datum.value : ''", "tickSize": {"condition": {"test": "datum.value % 10 === 0", "value": 3.5}, "value": 2}, "labelFontSize": 11.5, "labelPadding": 1, "labelOverlap": false, "labelFlush": false, "title": "d (Å)", "titleFontSize": 13, "titleX": 582, "titlePadding": 3}},
      "y": {"field": "y", "type": "quantitative", "scale": {"domain": [-0.118, 3.447], "range": [238.3, 18.3], "nice": false, "zero": false}, "axis": null}
    },
    "layer": [
      {"data": {"values": [{"d": 15, "d2": 80, "y": -0.118, "y2": 3.447}]}, "mark": {"type": "rect", "fill": "white", "stroke": "#000", "strokeWidth": 1.2}, "encoding": {"x2": {"field": "d2"}, "y2": {"field": "y2"}}},
      {"data": {"name": "apo"}, "mark": {"type": "line", "strokeWidth": 1.4, "interpolate": "monotone"},
       "encoding": {"detail": {"field": "g"}, "color": {"datum": "apo state", "scale": {"domain": ["apo state", "GDP·AlFₓ state"], "range": ["#000000", "#ff0000"]},
         "legend": {"orient": "none", "legendX": 515.2, "legendY": 26, "title": null, "symbolType": "M-3.125,0H3.125", "symbolSize": 64, "symbolStrokeWidth": 1.5, "labelFontSize": 13.5, "rowPadding": 1.5, "labelOffset": 11.8, "padding": 0}}}},
      {"data": {"name": "gdp"}, "mark": {"type": "line", "strokeWidth": 1.4, "interpolate": "monotone"}, "encoding": {"detail": {"field": "g"}, "color": {"datum": "GDP·AlFₓ state"}}},
      {"data": {"values": [{"d": 66.4, "y": 2.216, "label": "on BG-GA"}, {"d": 67.6, "y": 1.139, "label": "on BG"}, {"d": 70.3, "y": 0.206, "label": "solution"}]}, "mark": {"type": "text", "fontSize": 12, "align": "center", "baseline": "middle", "color": "#111"}, "encoding": {"text": {"field": "label"}}}
    ]
  }
]
}
